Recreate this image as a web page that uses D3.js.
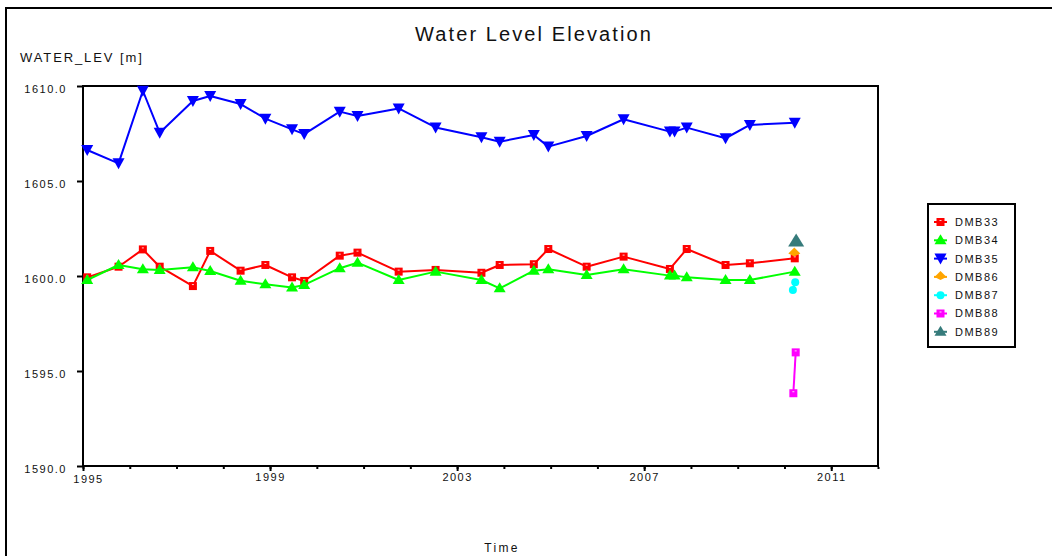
<!DOCTYPE html>
<html>
<head>
<meta charset="utf-8">
<script src="https://cdn.jsdelivr.net/npm/d3@7"></script>
<style>
  html, body { margin: 0; padding: 0; background: #fff; }
  svg { display: block; font-family: "Liberation Sans", Arial, sans-serif; }
</style>
</head>
<body>
<svg id="chart" width="1052" height="556"></svg>
<script>
// ---- data (decimal years, metres) ----
const dates = [1995.09, 1995.76, 1996.28, 1996.64, 1997.35, 1997.72, 1998.37, 1998.90, 1999.47, 1999.73,
               2000.49, 2000.87, 2001.75, 2002.54, 2003.52, 2003.91, 2004.64, 2004.95, 2005.77, 2006.56,
               2007.55, 2007.65, 2007.91, 2008.74, 2009.26, 2010.22];
const dmb33 = [1599.93, 1600.49, 1601.40, 1600.49, 1599.47, 1601.32, 1600.28, 1600.58, 1599.93, 1599.74,
               1601.07, 1601.23, 1600.23, 1600.32, 1600.17, 1600.58, 1600.62, 1601.42, 1600.49, 1601.02,
               1600.37, null, 1601.42, 1600.58, 1600.67, 1600.93];
const dmb34 = [1599.79, 1600.58, 1600.35, 1600.32, 1600.46, 1600.26, 1599.75, 1599.56, 1599.40, 1599.53,
               1600.41, 1600.70, 1599.79, 1600.23, 1599.79, 1599.35, 1600.28, 1600.35, 1600.05, 1600.35,
               1600.02, 1600.02, 1599.93, 1599.79, 1599.79, 1600.23];
const dmb35 = [1606.63, 1605.93, 1609.75, 1607.54, 1609.21, 1609.47, 1609.05, 1608.28, 1607.72, 1607.47,
               1608.65, 1608.42, 1608.82, 1607.82, 1607.30, 1607.07, 1607.42, 1606.81, 1607.37, 1608.25,
               1607.60, 1607.60, 1607.81, 1607.25, 1607.95, 1608.07];
const dmb86Dates = [2010.21];
const dmb86 = [1601.19];
const dmb87Dates = [2010.23, 2010.18];
const dmb87 = [1599.67, 1599.26];
const dmb88Dates = [2010.24, 2010.19];
const dmb88 = [1595.98, 1593.83];
const dmb89Dates = [2010.25];
const dmb89 = [1601.81];

const seriesNames = ["DMB33", "DMB34", "DMB35", "DMB86", "DMB87", "DMB88", "DMB89"];
const xTickYears = [1995, 1999, 2003, 2007, 2011];
const xMinorYears = d3.range(1995, 2013);
const yTicks = [1590, 1595, 1600, 1605, 1610];

// ---- styling ----
const colors = {DMB33: "#ff0000", DMB34: "#00ff00", DMB35: "#0000ff", DMB86: "#ffa500",
                DMB87: "#00ffff", DMB88: "#ff00ff", DMB89: "#367b7b"};
const shapes = {DMB33: "square", DMB34: "triUp", DMB35: "triDown", DMB86: "diamond",
                DMB87: "circle", DMB88: "square", DMB89: "triUpBig"};

const zip = (ds, vs) => ds.map((d, i) => ({x: d, y: vs[i]})).filter(p => p.y != null);
const series = [
  {name: "DMB33", pts: zip(dates, dmb33)},
  {name: "DMB34", pts: zip(dates, dmb34)},
  {name: "DMB35", pts: zip(dates, dmb35)},
  {name: "DMB86", pts: zip(dmb86Dates, dmb86)},
  {name: "DMB87", pts: zip(dmb87Dates, dmb87)},
  {name: "DMB88", pts: zip(dmb88Dates, dmb88)},
  {name: "DMB89", pts: zip(dmb89Dates, dmb89)}
];

const svg = d3.select("#chart");
const L = 83, R = 878, T = 86, B = 466;
const x = d3.scaleLinear().domain([1995, 2012]).range([L, R]);
const y = d3.scaleLinear().domain([1590, 1610]).range([B, T]);

// outer frame
svg.append("rect").attr("x", 6).attr("y", 8).attr("width", 1080).attr("height", 600)
  .attr("fill", "none").attr("stroke", "#000").attr("stroke-width", 2);

// title & labels
svg.append("text").attr("x", 534).attr("y", 41).attr("text-anchor", "middle")
  .style("font-size", "20px").style("letter-spacing", "2.1px").attr("fill", "#111")
  .text("Water Level Elevation");
svg.append("text").attr("x", 20).attr("y", 61.5)
  .style("font-size", "13px").style("letter-spacing", "1.9px").attr("fill", "#111")
  .text("WATER_LEV [m]");
svg.append("text").attr("x", 502).attr("y", 552).attr("text-anchor", "middle")
  .style("font-size", "12px").style("letter-spacing", "2.3px").attr("fill", "#111")
  .text("Time");

// plot frame
svg.append("rect").attr("x", L).attr("y", T).attr("width", R - L).attr("height", B - T)
  .attr("fill", "none").attr("stroke", "#000").attr("stroke-width", 2);

// axes
const xMinor = svg.append("g").attr("transform", `translate(0,${B})`)
  .call(d3.axisBottom(x).tickValues(xMinorYears).tickSize(3).tickFormat(""));
xMinor.select(".domain").remove();
xMinor.selectAll("line").attr("stroke-width", 2).attr("y1", 1);

const xAxis = svg.append("g").attr("transform", `translate(0,${B})`)
  .call(d3.axisBottom(x).tickValues(xTickYears).tickSize(5).tickPadding(2).tickFormat(d3.format("d")));
xAxis.select(".domain").remove();
xAxis.selectAll("line").attr("stroke-width", 2);
xAxis.selectAll("text").style("font-size", "11px").style("letter-spacing", "1.5px").attr("fill", "#111")
  .attr("font-family", null);
xAxis.selectAll(".tick").filter(d => d === 1995).select("text").attr("dx", 5).attr("y", 9);

const yAxis = svg.append("g").attr("transform", `translate(${L},0)`)
  .call(d3.axisLeft(y).tickValues(yTicks).tickSize(6).tickPadding(10).tickFormat(d3.format(".1f")));
yAxis.select(".domain").remove();
yAxis.selectAll("line").attr("stroke-width", 2);
yAxis.selectAll("text").style("font-size", "11px").style("letter-spacing", "1.5px").attr("fill", "#111")
  .attr("dy", "0.55em").attr("font-family", null);

// marker drawing
function marker(g, shape, color, cx, cy) {
  if (shape === "square") {
    g.append("rect").attr("x", cx - 4).attr("y", cy - 4).attr("width", 8).attr("height", 8)
      .attr("fill", color);
    g.append("rect").attr("x", cx - 1).attr("y", cy - 2).attr("width", 2).attr("height", 1)
      .attr("fill", "#fff").attr("opacity", 0.8);
  } else if (shape === "triUp") {
    g.append("path").attr("d", `M${cx},${cy - 6}L${cx + 6},${cy + 4}L${cx - 6},${cy + 4}Z`).attr("fill", color);
  } else if (shape === "triUpBig") {
    g.append("path").attr("d", `M${cx},${cy - 8}L${cx + 8},${cy + 5}L${cx - 8},${cy + 5}Z`).attr("fill", color);
  } else if (shape === "triDown") {
    g.append("path").attr("d", `M${cx - 6},${cy - 5}L${cx + 6},${cy - 5}L${cx},${cy + 6}Z`).attr("fill", color);
  } else if (shape === "diamond") {
    g.append("path").attr("d", `M${cx},${cy - 6}L${cx + 6},${cy}L${cx},${cy + 3}L${cx - 6},${cy}Z`).attr("fill", color);
  } else if (shape === "circle") {
    g.append("circle").attr("cx", cx).attr("cy", cy).attr("r", 4).attr("fill", color);
  }
}

const line = d3.line().x(d => x(d.x)).y(d => y(d.y));
const plot = svg.append("g");
series.forEach(s => {
  const c = colors[s.name];
  if (s.pts.length > 1) {
    plot.append("path").datum(s.pts).attr("d", line)
      .attr("fill", "none").attr("stroke", c).attr("stroke-width", 2).attr("stroke-linejoin", "round");
  }
  const g = plot.append("g");
  s.pts.forEach(p => marker(g, shapes[s.name], c, x(p.x), y(p.y)));
});

// legend
const lg = svg.append("g");
lg.append("rect").attr("x", 928).attr("y", 204).attr("width", 87).attr("height", 143)
  .attr("fill", "#fff").attr("stroke", "#000").attr("stroke-width", 2);
seriesNames.forEach((n, i) => {
  const cy = 222 + i * 18.3;
  const c = colors[n];
  lg.append("line").attr("x1", 934).attr("x2", 947).attr("y1", cy).attr("y2", cy)
    .attr("stroke", c).attr("stroke-width", 2);
  marker(lg, shapes[n] === "triUpBig" ? "triUp" : shapes[n], c, 940.5, cy);
  lg.append("text").attr("x", 955).attr("y", cy).attr("dy", "0.36em")
    .style("font-size", "11px").style("letter-spacing", "1.5px").attr("fill", "#111").text(n);
});
</script>
</body>
</html>
